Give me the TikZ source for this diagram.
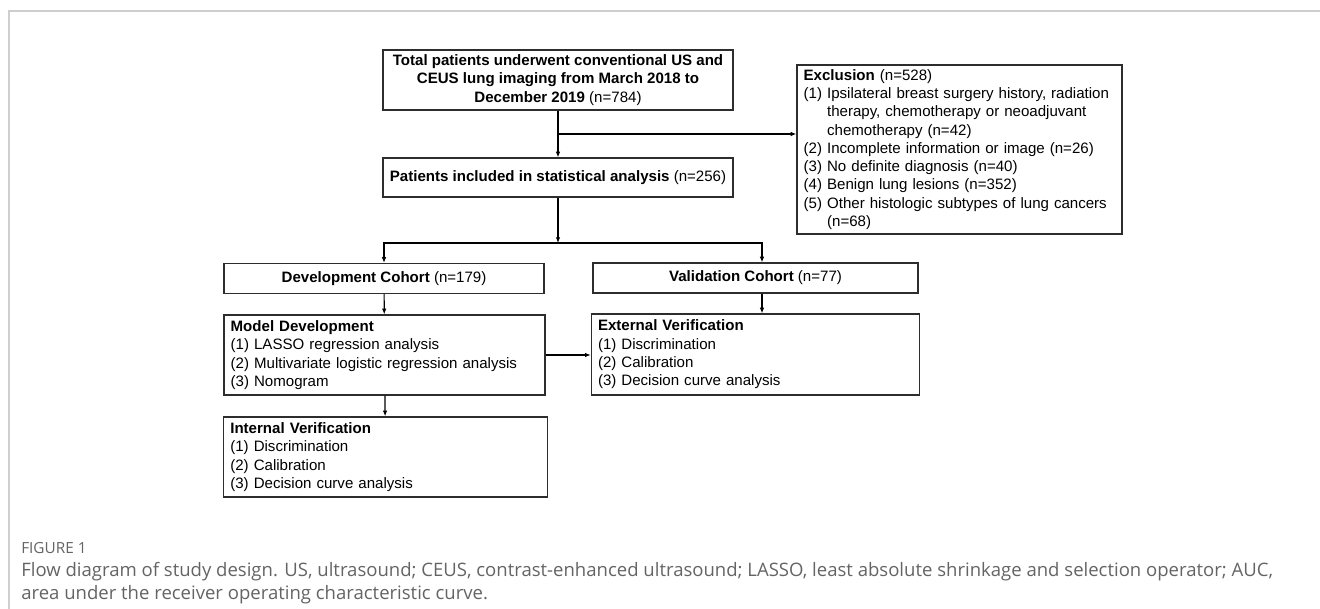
\documentclass[tikz,border=0pt]{standalone}
\usepackage{fontspec}
\setmainfont{Liberation Sans}
\newfontfamily\capfont{Open Sans}
\usetikzlibrary{arrows.meta}
\usetikzlibrary{calc}
\usetikzlibrary{positioning}
\tikzset{>={Latex[length=1.5mm,width=1.2mm]}}
\definecolor{framegrey}{RGB}{206,206,206}
\definecolor{captiongrey}{RGB}{100,100,100}
\definecolor{boxline}{RGB}{45,45,45}
\tikzstyle{flowbox}=[draw=boxline,line width=0.9pt,inner xsep=5pt,inner ysep=0pt,font=\fontsize{11.3}{13.7}\selectfont]
\tikzstyle{centerbox}=[flowbox,align=center]
\tikzstyle{leftbox}=[flowbox,align=left]
\tikzstyle{flowline}=[draw=black,line width=0.9pt]

\begin{document}
\begin{tikzpicture}[x=0.75pt,y=-0.75pt]
  \useasboundingbox (0,0) rectangle (1320,609);
  % page frame
  \draw[framegrey,line width=0.8pt] (9,609) -- (9,11) -- (1320,11);

  \node (total) [centerbox,minimum width=262.5pt,minimum height=45pt] at (558,80)
    {\textbf{Total patients underwent conventional US and}\\
     \textbf{CEUS lung imaging from March 2018 to}\\
     \textbf{December 2019} (n=784)};
  \node (included) [centerbox,minimum width=262.5pt,minimum height=29.25pt] at (558,177.5)
    {\textbf{Patients included in statistical analysis} (n=256)};
  \node (excl) [leftbox,text width=233.75pt,minimum height=126.75pt] at (959.5,149.5)
    {\textbf{Exclusion} (n=528)\\
     (1) Ipsilateral breast surgery history, radiation\\
     \phantom{(1) }therapy, chemotherapy or neoadjuvant\\
     \phantom{(1) }chemotherapy (n=42)\\
     (2) Incomplete information or image (n=26)\\
     (3) No definite diagnosis (n=40)\\
     (4) Benign lung lesions (n=352)\\
     (5) Other histologic subtypes of lung cancers\\
     \phantom{(5) }(n=68)};

  \node (dev) [centerbox,minimum width=240pt,minimum height=22.5pt] at (384,278.5)
    {\textbf{Development Cohort} (n=179)};
  \node (valid) [centerbox,minimum width=243.75pt,minimum height=22.5pt] at (755.5,278)
    {\textbf{Validation Cohort} (n=77)};

  \node (model) [leftbox,text width=230.75pt,minimum height=60pt] at (384.5,355)
    {\textbf{Model Development}\\
     (1) LASSO regression analysis\\
     (2) Multivariate logistic regression analysis\\
     (3) Nomogram};
  \node (external) [leftbox,text width=236.25pt,minimum height=60.75pt] at (755.5,354.5)
    {\textbf{External Verification}\\
     (1) Discrimination\\
     (2) Calibration\\
     (3) Decision curve analysis};
  \node (internal) [leftbox,text width=232.75pt,minimum height=60pt] at (385.5,457)
    {\textbf{Internal Verification}\\
     (1) Discrimination\\
     (2) Calibration\\
     (3) Decision curve analysis};

  % connectors
  \coordinate (split1) at (558,134);
  \coordinate (split2) at (558,243);
  \coordinate (valsplit) at (762,243);
  \draw[flowline,->] (total) -- (included);
  \draw[flowline,->] (split1) -- (split1 -| excl.west);
  \draw[flowline,->] (included) -- (split2);
  \draw[flowline,->] (split2) -| (dev.north);
  \draw[flowline,->] (split2) -- (valsplit) -- (valsplit |- valid.north);
  \draw[flowline,->] (valsplit |- valid.south) -- (valsplit |- external.north);
  \draw[flowline,->] (dev) -- (model);
  \draw[flowline,->] (model) -- (internal);
  \draw[flowline,->] (model.east) -- (model.east -| external.west);

  % caption
  \node (figlabel) [anchor=base west,inner sep=0pt,text=captiongrey,font=\capfont\fontsize{11.5}{14}\selectfont] at (21,553) {FIGURE 1};
  \node (caption) [anchor=base west,align=left,inner sep=0pt,text=captiongrey,font=\capfont\fontsize{13.9}{17.25}\selectfont] at (21,599)
    {Flow diagram of study design. US, ultrasound; CEUS, contrast-enhanced ultrasound; LASSO, least absolute shrinkage and selection operator; AUC,\\
     area under the receiver operating characteristic curve.};
\end{tikzpicture}
\end{document}
